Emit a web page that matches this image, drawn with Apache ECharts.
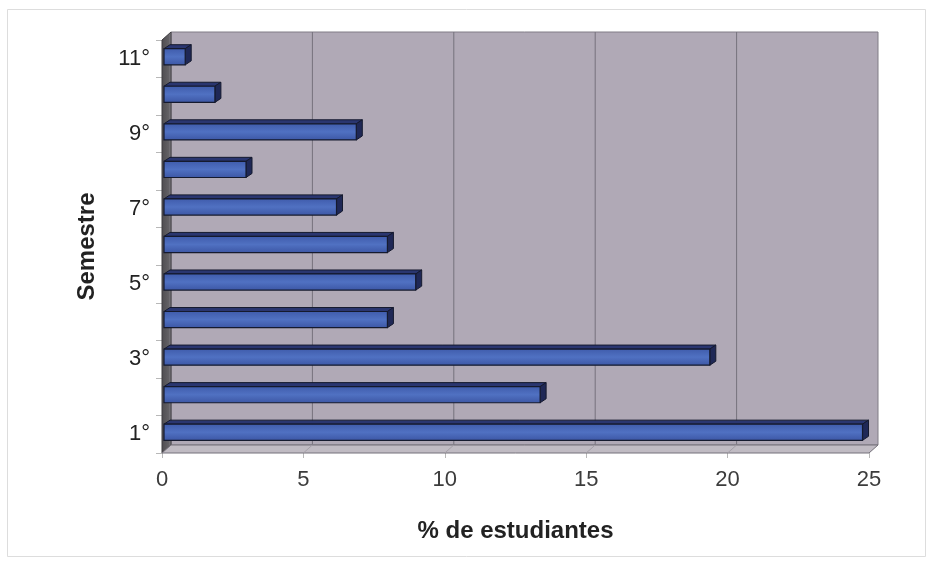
<!DOCTYPE html>
<html>
<head>
<meta charset="utf-8">
<script src="https://cdn.jsdelivr.net/npm/echarts@6/dist/echarts.min.js"></script>
<style>
  html, body { margin: 0; padding: 0; background: #ffffff; }
  #chart { width: 933px; height: 566px; }
</style>
</head>
<body>
<div id="chart"></div>
<script>
// Semesters on the vertical axis (bottom to top)
const categories = ['1°', '2°', '3°', '4°', '5°', '6°', '7°', '8°', '9°', '10°', '11°'];
// Share of students in each semester (%)
const percentages = [24.7, 13.3, 19.3, 7.9, 8.9, 7.9, 6.1, 2.9, 6.8, 1.8, 0.75];
// Value-axis ticks
const xTicks = [0, 5, 10, 15, 20, 25];

// Depth of the 3D box (screen pixels, right / up)
const WALL_DEPTH = [9, -8];
const BAR_FRONT = [2, -2];
const BAR_BACK = [8, -6];

const FONT = '"Liberation Sans", Arial, Helvetica, sans-serif';

function renderWalls(params, api) {
  const cs = params.coordSys;
  const x0 = cs.x, x1 = cs.x + cs.width, y0 = cs.y, y1 = cs.y + cs.height;
  const dx = WALL_DEPTH[0], dy = WALL_DEPTH[1];
  const children = [];
  // back wall
  children.push({
    type: 'polygon',
    shape: { points: [[x0 + dx, y0 + dy], [x1 + dx, y0 + dy], [x1 + dx, y1 + dy], [x0 + dx, y1 + dy]] },
    style: { fill: '#b0a9b6', stroke: '#807c86', lineWidth: 1 }
  });
  // side wall
  children.push({
    type: 'polygon',
    shape: { points: [[x0, y0], [x0 + dx, y0 + dy], [x0 + dx, y1 + dy], [x0, y1]] },
    style: {
      fill: new echarts.graphic.LinearGradient(0, 0, 1, 0, [
        { offset: 0, color: '#4e4c50' },
        { offset: 0.7, color: '#626064' },
        { offset: 1, color: '#8a878e' }
      ]),
      stroke: '#3e3c40', lineWidth: 1
    }
  });
  // floor
  children.push({
    type: 'polygon',
    shape: { points: [[x0, y1], [x0 + dx, y1 + dy], [x1 + dx, y1 + dy], [x1, y1]] },
    style: { fill: '#c0bbc3', stroke: '#75717a', lineWidth: 1 }
  });
  // gridlines on the back wall and floor
  xTicks.slice(1, -1).forEach(function (v) {
    const px = api.coord([v, 0])[0];
    children.push({
      type: 'line',
      shape: { x1: px + dx, y1: y0 + dy, x2: px + dx, y2: y1 + dy },
      style: { stroke: '#76727d', lineWidth: 1 }
    });
    children.push({
      type: 'line',
      shape: { x1: px, y1: y1, x2: px + dx, y2: y1 + dy },
      style: { stroke: '#a5a0a8', lineWidth: 1 }
    });
  });
  return { type: 'group', children: children };
}

function renderBar(params, api) {
  const v = api.value(0);
  const idx = api.value(1);
  const start = api.coord([0, idx]);
  const end = api.coord([v, idx]);
  const band = api.size([0, 1])[1];
  const h = band * 0.43;
  const xs = start[0], xe = end[0];
  const yt = start[1] - h / 2, yb = start[1] + h / 2;
  const f = BAR_FRONT, b = BAR_BACK;
  const outline = '#151a2e';
  return {
    type: 'group',
    children: [
      { // top face
        type: 'polygon',
        shape: { points: [[xs + f[0], yt + f[1]], [xs + b[0], yt + b[1]], [xe + b[0], yt + b[1]], [xe + f[0], yt + f[1]]] },
        style: { fill: '#2a3670', stroke: outline, lineWidth: 1 }
      },
      { // end cap
        type: 'polygon',
        shape: { points: [[xe + f[0], yt + f[1]], [xe + b[0], yt + b[1]], [xe + b[0], yb + b[1]], [xe + f[0], yb + f[1]]] },
        style: { fill: '#1f2856', stroke: outline, lineWidth: 1 }
      },
      { // front face
        type: 'polygon',
        shape: { points: [[xs + f[0], yt + f[1]], [xe + f[0], yt + f[1]], [xe + f[0], yb + f[1]], [xs + f[0], yb + f[1]]] },
        style: {
          fill: new echarts.graphic.LinearGradient(0, 0, 0, 1, [
            { offset: 0, color: '#3f5bab' },
            { offset: 0.5, color: '#5071c2' },
            { offset: 1, color: '#3c56a4' }
          ]),
          stroke: outline, lineWidth: 1.2
        }
      }
    ]
  };
}

const chart = echarts.init(document.getElementById('chart'), null, { renderer: 'canvas' });

chart.setOption({
  backgroundColor: '#ffffff',
  animation: false,
  graphic: [{
    type: 'rect',
    shape: { x: 7.5, y: 9.5, width: 918, height: 547 },
    style: { fill: 'none', stroke: '#dddddd', lineWidth: 1 },
    z: -10
  }],
  grid: { left: 162, right: 64, top: 40, bottom: 113, containLabel: false },
  xAxis: {
    type: 'value',
    min: 0,
    max: 25,
    interval: 5,
    name: '% de estudiantes',
    nameLocation: 'middle',
    nameGap: 66,
    nameTextStyle: { fontFamily: FONT, fontSize: 24, fontWeight: 'bold', color: '#222' },
    axisLine: { show: false },
    axisTick: { show: true, length: 5, lineStyle: { color: '#b8b8b8' } },
    splitLine: { show: false },
    axisLabel: { fontFamily: FONT, fontSize: 22, color: '#3c3c3c', margin: 16 }
  },
  yAxis: {
    type: 'category',
    data: categories,
    boundaryGap: true,
    name: 'Semestre',
    nameLocation: 'middle',
    nameGap: 63,
    nameTextStyle: { fontFamily: FONT, fontSize: 24, fontWeight: 'bold', color: '#222' },
    axisLine: { show: false },
    axisTick: { show: true, interval: 0, length: 6, lineStyle: { color: '#b8b8b8' } },
    splitLine: { show: false },
    axisLabel: { interval: 1, fontFamily: FONT, fontSize: 22, color: '#222', margin: 12 }
  },
  series: [
    {
      type: 'custom',
      name: 'walls',
      renderItem: renderWalls,
      data: [[0, 0]],
      clip: false,
      silent: true,
      z: 1
    },
    {
      type: 'custom',
      name: '% de estudiantes',
      renderItem: renderBar,
      encode: { x: 0, y: 1 },
      data: percentages.map(function (v, i) { return [v, i]; }),
      clip: false,
      z: 2
    }
  ]
});
</script>
</body>
</html>
